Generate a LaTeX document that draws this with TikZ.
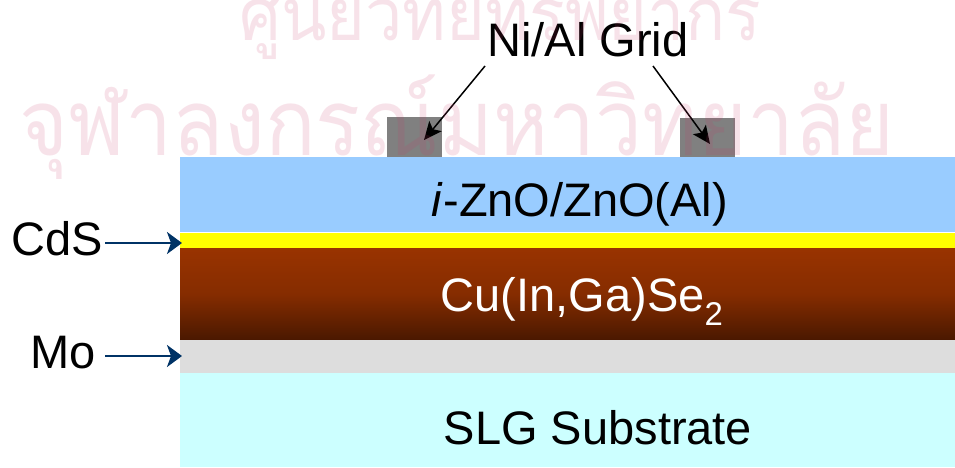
\documentclass[tikz,border=0pt]{standalone}
\usepackage{fontspec}
\setmainfont{Liberation Sans}
\newfontfamily\thaifont[Script=Thai]{Loma}
\usetikzlibrary{arrows.meta}
\definecolor{zno}{HTML}{99CCFF}
\definecolor{cds}{HTML}{FFFF00}
\definecolor{cigsTop}{HTML}{993300}
\definecolor{cigsBot}{HTML}{4A1800}
\definecolor{mo}{HTML}{DDDDDD}
\definecolor{slg}{HTML}{CCFFFF}
\definecolor{grid}{HTML}{808080}
\definecolor{navy}{HTML}{003366}
\definecolor{wmark}{HTML}{CC3366}
\begin{document}
\begin{tikzpicture}[x=1pt,y=-1pt,
  lbl/.style={inner sep=0pt, font=\fontsize{47}{50}\selectfont},
  navyarrow/.style={draw=navy, line width=2pt, -{Stealth[length=15pt,width=22pt,inset=4pt]}},
  gridarrow/.style={draw=black, line width=1.5pt, -{Stealth[length=18pt,width=16pt,inset=4pt]}},
  gridbox/.style={fill=grid},
  wm/.style={inner sep=0pt, text=wmark, opacity=0.14, xscale=0.91}
]
\useasboundingbox (0,0) rectangle (955,467);
\clip (0,0) rectangle (955,467);
\fill[white] (0,0) rectangle (955,467);
% layers
\fill[zno] (180,157) rectangle (955,232);
\fill[cds] (180,233) rectangle (955,248);
\shade[top color=cigsTop, bottom color=cigsBot, middle color=cigsTop!75!cigsBot] (180,248) rectangle (955,340);
\fill[mo] (180,340) rectangle (955,373);
\fill[slg] (180,373) rectangle (955,467);
% grid contacts
\fill[gridbox] (387,117) rectangle (442,157);
\fill[gridbox] (680,118) rectangle (735,157);
% labels
\node[lbl, anchor=base] (znoL) at (580,216) {\textit{i}-ZnO/ZnO(Al)};
\node[lbl, anchor=base, text=white] (cigsL) at (582,311) {Cu(In,Ga)Se\textsubscript{2}};
\node[lbl, anchor=base] (slgL) at (598,444) {SLG Substrate};
\node[lbl, anchor=base] (gridL) at (588,56) {Ni/Al Grid};
\node[lbl, anchor=base east] (cdsL) at (103,255) {CdS};
\node[lbl, anchor=base east] (moL) at (96,368) {Mo};
% arrows
\coordinate (cdsS) at (105,243);
\coordinate (cdsT) at (182,243);
\coordinate (moS) at (105,356);
\coordinate (moT) at (182,356);
\draw[navyarrow] (cdsS) -- (cdsT);
\draw[navyarrow] (moS) -- (moT);
\coordinate (g1S) at (485,66);
\coordinate (g1T) at (424,140);
\coordinate (g2S) at (653,66);
\coordinate (g2T) at (710,144);
\draw[gridarrow] (g1S) -- (g1T);
\draw[gridarrow] (g2S) -- (g2T);
% watermark
\node[wm, anchor=base, font=\thaifont\fontsize{73}{80}\selectfont] (wm1) at (500,40) {ศูนย์วิทยทรัพยากร};
\node[wm, anchor=base, font=\thaifont\fontsize{92}{100}\selectfont] (wm2) at (457,155) {จุฬาลงกรณ์มหาวิทยาลัย};
\end{tikzpicture}
\end{document}
